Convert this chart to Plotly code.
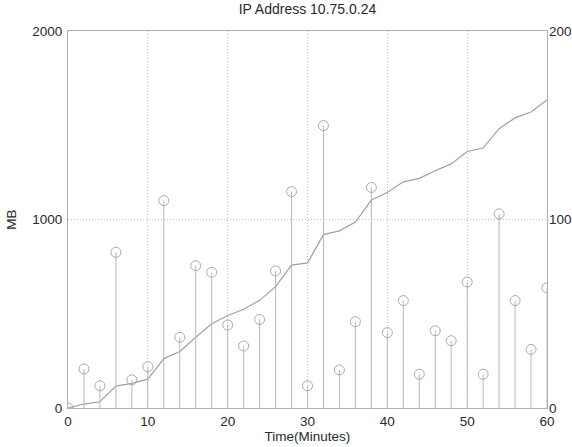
import plotly.graph_objects as go

minutes = [0, 2, 4, 6, 8, 10, 12, 14, 16, 18, 20, 22, 24, 26, 28, 30,
           32, 34, 36, 38, 40, 42, 44, 46, 48, 50, 52, 54, 56, 58, 60]
per_interval = [0, 20.7, 11.8, 82.6, 14.9, 21.9, 110, 37.5, 75.5, 72, 44, 32.9, 47, 72.7, 114.8, 11.8,
                149.8, 20.2, 45.8, 117, 40, 57, 17.9, 41, 35.7, 66.8, 17.9, 103, 57, 31.1, 63.8]
cumulative = [0, 21, 33, 116, 131, 153, 262, 300, 375, 447, 491, 524, 571, 644, 758, 770,
              920, 940, 986, 1103, 1143, 1200, 1218, 1259, 1295, 1361, 1379, 1482, 1539, 1570, 1634]

title = "IP Address 10.75.0.24"
x_title = "Time(Minutes)"
y_title = "MB"

stem_x, stem_y = [], []
for xv, yv in zip(minutes, per_interval):
    stem_x += [xv, xv, None]
    stem_y += [0, yv, None]

fig = go.Figure()
fig.add_trace(go.Scatter(x=stem_x, y=stem_y, mode="lines", yaxis="y2",
                         line=dict(color="#b8b8b8", width=1), hoverinfo="skip", showlegend=False))
fig.add_trace(go.Scatter(x=minutes, y=per_interval, mode="markers", yaxis="y2",
                         marker=dict(symbol="circle-open", size=10, color="#aaaaaa", line=dict(width=1)),
                         showlegend=False))
fig.add_trace(go.Scatter(x=minutes, y=cumulative, mode="lines", yaxis="y",
                         line=dict(color="#a0a0a0", width=1.2), showlegend=False))

txt = "#2a2a2a"
fam = "Liberation Sans, Arial, sans-serif"
fig.update_layout(
    width=572, height=447,
    margin=dict(l=68, r=25, t=31, b=39),
    paper_bgcolor="white", plot_bgcolor="white",
    font=dict(family=fam, size=13.5, color=txt),
    title=dict(text=title, x=0.5, xref="paper", xanchor="center", y=1, yref="container",
               yanchor="top", pad=dict(t=4), font=dict(size=14, color=txt)),
    xaxis=dict(range=[0, 60], tickvals=[0, 10, 20, 30, 40, 50, 60], showgrid=True,
               gridcolor="#c0c0c0", griddash="1px,2px", gridwidth=1, zeroline=False,
               showline=True, linecolor="#b0b0b0", mirror=True, ticks="", automargin=False,
               tickfont=dict(size=13.5),
               title=dict(text=x_title, standoff=3, font=dict(size=13.5)), ticklabelstandoff=1),
    yaxis=dict(range=[0, 2000], tickvals=[0, 1000, 2000], showgrid=True,
               gridcolor="#c0c0c0", griddash="1px,2px", gridwidth=1, zeroline=False,
               showline=True, linecolor="#b0b0b0", mirror=True, ticks="", automargin=False,
               tickfont=dict(size=13.5),
               title=dict(text=y_title, standoff=12, font=dict(size=13.5)), ticklabelstandoff=2),
    yaxis2=dict(range=[0, 200], tickvals=[0, 100, 200], overlaying="y", side="right",
                showgrid=False, zeroline=False, showline=False, ticks="", automargin=False,
                tickfont=dict(size=13.5), ticklabelstandoff=1),
)
fig.write_html("out.html")
